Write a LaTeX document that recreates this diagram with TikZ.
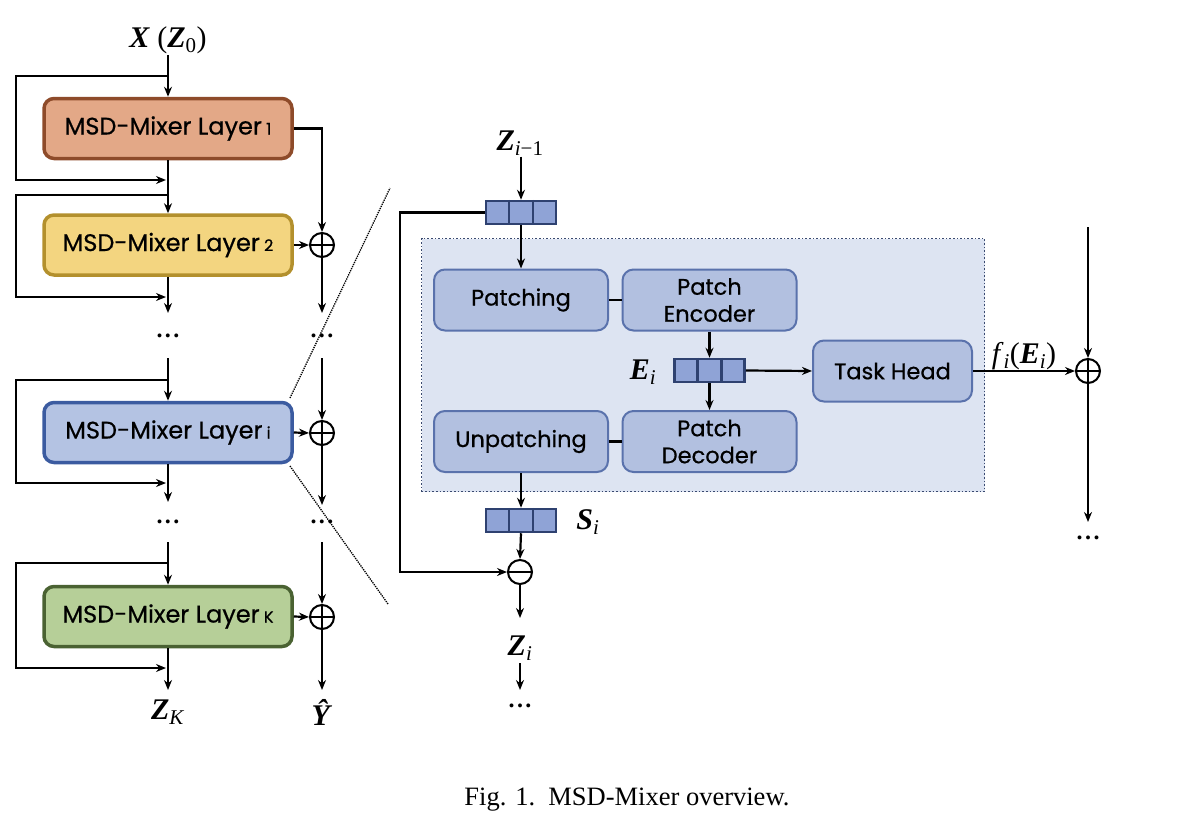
\documentclass[tikz,border=0pt]{standalone}
\usepackage{fontspec}
\setmainfont{Liberation Serif}
\newfontfamily\boxfont[FakeBold=0.6]{Poppins}
\usetikzlibrary{arrows.meta,calc}
\definecolor{c1fill}{HTML}{E3A887}\definecolor{c1line}{HTML}{8E4B2A}
\definecolor{c2fill}{HTML}{F3D580}\definecolor{c2line}{HTML}{B3902D}
\definecolor{cifill}{HTML}{B4C3E3}\definecolor{ciline}{HTML}{3B5BA0}
\definecolor{ckfill}{HTML}{B6CF98}\definecolor{ckline}{HTML}{4A6232}
\definecolor{infill}{HTML}{B2C0E0}\definecolor{inline}{HTML}{5A72AC}
\definecolor{vecfill}{HTML}{8FA3D6}\definecolor{vecline}{HTML}{2E4170}
\definecolor{bgfill}{HTML}{DDE4F2}\definecolor{bgline}{HTML}{3A4A70}
\begin{document}
\begin{tikzpicture}[x=1pt,y=-1pt,
  arr/.style={line width=2.2pt,-{Stealth[length=10pt,width=8pt]}},
  ln/.style={line width=2.2pt},
  layer/.style={rectangle,rounded corners=10pt,minimum width=248pt,minimum height=60pt,line width=3.5pt,
    font=\boxfont\fontsize{24}{28}\selectfont,inner sep=2pt},
  inner/.style={rectangle,rounded corners=11pt,minimum height=61pt,line width=2pt,draw=inline,fill=infill,
    align=center,font=\boxfont\fontsize{22.5}{27}\selectfont,inner sep=2pt},
  vecbox/.style={rectangle,minimum width=70pt,minimum height=23pt,line width=2.5pt,draw=vecline,fill=vecfill,inner sep=0pt},
  oplus/.style={circle,draw,line width=2pt,minimum size=24pt,inner sep=0pt,
    path picture={\draw[line width=2pt] (path picture bounding box.north) -- (path picture bounding box.south)
      (path picture bounding box.west) -- (path picture bounding box.east);}},
  ominus/.style={circle,draw,line width=2pt,minimum size=24pt,inner sep=0pt,
    path picture={\draw[line width=2pt] (path picture bounding box.west) -- (path picture bounding box.east);}},
  lbl/.style={font=\fontsize{30}{34}\selectfont,inner sep=1pt},
  dots/.style={font=\fontsize{24}{28}\selectfont\bfseries,inner sep=0pt},
  zoomline/.style={line width=1.3pt,densely dotted}
]
\useasboundingbox (0,0) rectangle (1192,822);
\newcommand{\bv}[1]{\textbf{\textit{#1}}}
\newcommand{\sub}[1]{\textsubscript{\textit{#1}}}
\newcommand{\lsub}[1]{{\fontsize{16}{17}\selectfont\ #1}}
\newcommand{\dts}{.\kern2.5pt.\kern2.5pt.}

% ---------------- left column ----------------
\node[lbl] (X) at (168,40) {\bv{X} (\bv{Z}\textsubscript{0})};
\node[layer,fill=c1fill,draw=c1line] (L1) at (168,128.5) {MSD-Mixer Layer\lsub{1}};
\node[layer,fill=c2fill,draw=c2line] (L2) at (168,245) {MSD-Mixer Layer\lsub{2}};
\node[layer,fill=cifill,draw=ciline] (Li) at (168,432.5) {MSD-Mixer Layer\lsub{i}};
\node[layer,fill=ckfill,draw=ckline] (LK) at (168,616.5) {MSD-Mixer Layer\lsub{K}};

\node[dots] (d1) at (168,336) {\dts};
\node[dots] (d2) at (168,522) {\dts};
\node[lbl] (ZK) at (168,712) {\bv{Z}\sub{K}};

\draw[arr] (X.south -| L1.north) -- (L1.north);
\draw[arr] (168,76) -| (16,180) -- (166,180);
\draw[arr] (L1.south) -- (L2.north);
\draw[arr] (168,195) -| (16,297) -- (166,297);
\draw[arr] (L2.south) -- (168,313);
\draw[arr] (168,358) -- (Li.north);
\draw[arr] (168,380) -| (16,483) -- (166,483);
\draw[arr] (Li.south) -- (168,502);
\draw[arr] (168,542) -- (LK.north);
\draw[arr] (168,563) -| (16,668) -- (166,668);
\draw[arr] (LK.south) -- (168,690);

% right column of left part
\node[oplus] (o2) at (322,245) {};
\node[oplus] (oi) at (322,433) {};
\node[oplus] (oK) at (322,617) {};
\node[dots] (d3) at (322,336) {\dts};
\node[dots] (d4) at (322,522) {\dts};
\node[lbl] (Yh) at (322,712) {\bv{\^{Y}}};

\draw[arr] (L1.east) -| (o2.north);
\draw[arr] (L2.east) -- (o2.west);
\draw[arr] (o2.south) -- (322,313);
\draw[arr] (322,358) -- (oi.north);
\draw[arr] (Li.east) -- (oi.west);
\draw[arr] (oi.south) -- (322,505);
\draw[arr] (322,542) -- (oK.north);
\draw[arr] (LK.east) -- (oK.west);
\draw[arr] (oK.south) -- (322,690);

% zoom lines
\draw[zoomline] (290,398) -- (390,188);
\draw[zoomline] (290,466) -- (388,604);

% ---------------- right panel ----------------
\node[draw=bgline,fill=bgfill,dotted,line width=1.6pt,minimum width=563pt,minimum height=253pt,inner sep=0pt] (bg) at (703,365) {};

\node[lbl] (Zim1) at (520,143) {\bv{Z}\textsubscript{\textit{i}−1}};
\node[vecbox] (vz) at (521,212.5) {};
\node[inner,minimum width=174pt] (pat) at (521,300) {Patching};
\node[inner,minimum width=174pt] (penc) at (709.5,300) {Patch\\Encoder};
\node[vecbox] (ve) at (709.5,370.5) {};
\node[lbl] (Ei) at (643,372) {\bv{E}\sub{i}};
\node[inner,minimum width=159pt] (th) at (892.5,371) {Task Head};
\node[inner,minimum width=174pt] (unp) at (521,441.5) {Unpatching};
\node[inner,minimum width=174pt] (pdec) at (709.5,441.5) {Patch\\Decoder};
\node[vecbox] (vs) at (521,520.5) {};
\node[lbl] (Si) at (588,522) {\bv{S}\sub{i}};
\node[ominus] (om) at (520,572) {};
\node[lbl] (Zi) at (520,648) {\bv{Z}\sub{i}};
\node[dots] (d5) at (520,706) {\dts};

\foreach \v in {vz,ve,vs}{
  \draw[line width=2.5pt,draw=vecline] ($(\v.north west)!1/3!(\v.north east)$) -- ($(\v.south west)!1/3!(\v.south east)$);
  \draw[line width=2.5pt,draw=vecline] ($(\v.north west)!2/3!(\v.north east)$) -- ($(\v.south west)!2/3!(\v.south east)$);
}

\draw[arr] (Zim1.south -| vz.north) -- (vz.north);
\coordinate (c1) at (400,212.5);
\draw[arr] (vz.west) -- (c1) |- (om.west);
\draw[arr] (vz.south) -- (pat.north);
\draw[ln] (pat.east) -- (penc.west);
\draw[arr] (penc.south) -- (ve.north);
\draw[arr] (ve.south) -- (pdec.north);
\draw[arr] (ve.east) -- (th.west);
\draw[ln] (unp.east) -- (pdec.west);
\draw[arr] (unp.south) -- (vs.north);
\draw[arr] (vs.south) -- (om.north);
\draw[arr] (om.south) -- (520,618);
\draw[arr] (520,663) -- (520,690);

\node[oplus] (oH) at (1088,371) {};
\node[dots] (d6) at (1088,538) {\dts};
\draw[arr] (th.east) -- node[lbl,above,pos=0.5,inner sep=0pt] {\textit{f}\sub{i}(\bv{E}\sub{i})} (oH.west);
\draw[arr] (1088,227) -- (oH.north);
\draw[arr] (oH.south) -- (1088,522);

% caption
\node[font=\fontsize{26.5}{30}\selectfont] (cap) at (627,800) {Fig. 1.\ \ MSD-Mixer overview.};
\end{tikzpicture}
\end{document}
